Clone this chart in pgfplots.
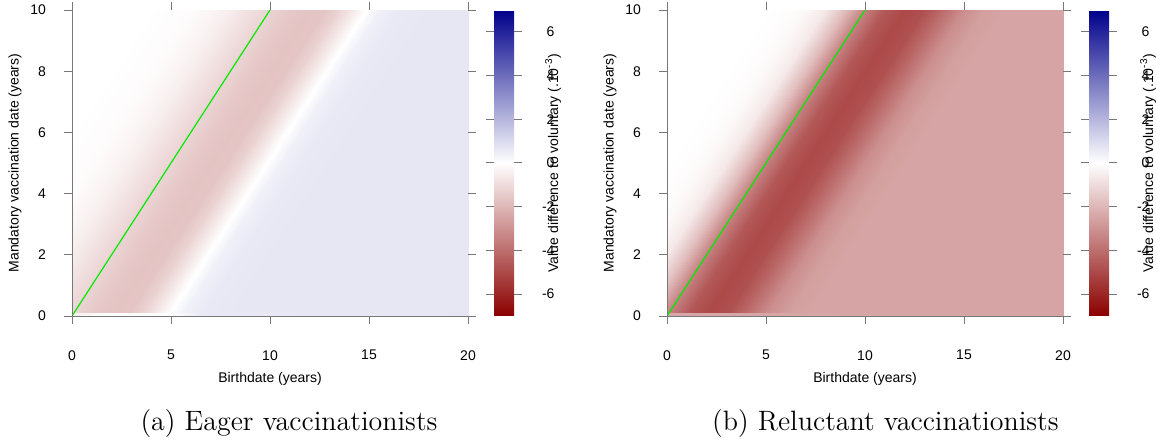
\documentclass[border=0pt]{standalone}
\usepackage{fontspec}
\usepackage{pgfplots}
\pgfplotsset{compat=1.18}
\newfontfamily\arialfont{Liberation Sans}
\definecolor{axgray}{RGB}{120,120,120}
\definecolor{rgreen}{RGB}{0,235,0}
\pgfplotsset{
  colormap={rwb}{rgb255(0cm)=(139,0,0) rgb255(1cm)=(255,255,255) rgb255(2cm)=(0,0,139)},
  /pgf/number format/assume math mode=true,
  tick label style={font=\arialfont\fontsize{7}{8}\selectfont, text=black},
  mymap/.style={
    view={0}{90},
    scale only axis, width=198pt, height=153pt,
    xmin=0, xmax=20, ymin=0, ymax=10,
    xtick={0,5,10,15,20}, ytick={0,2,...,10}, ztick=\empty,
    tick align=outside, major tick length=4pt,
    tick style={axgray, line width=0.5pt},
    axis line style={draw=none},
    clip mode=individual,
    xticklabel style={yshift=-9.6pt},
    yticklabel style={xshift=-5.5pt},
    point meta min=-7, point meta max=7,
    xlabel={Birthdate (years)},
    ylabel={Mandatory vaccination date (years)},
    every axis x label/.style={at={(axis description cs:0.5,-0.206)}, anchor=center, font=\arialfont\fontsize{7}{8}\selectfont},
    every axis y label/.style={at={(axis description cs:-0.144,0.5)}, anchor=center, rotate=90, font=\arialfont\fontsize{7}{8}\selectfont},
    colorbar,
    colorbar style={
      at={(parent axis.north east)}, anchor=north west, xshift=4.46pt,
      scale only axis, width=10pt, height=153pt,
      ytick={-6,-4,...,6}, ytick pos=both, yticklabel pos=right,
      tick align=outside, major tick length=4pt,
      tick style={axgray, line width=0.5pt},
      axis line style={draw=none},
      ylabel={Value difference to voluntary (.10\textsuperscript{-3})},
      every axis y label/.style={at={(axis description cs:2.95,0.5)}, anchor=center, rotate=90, font=\arialfont\fontsize{7}{8}\selectfont},
      yticklabel style={anchor=west, text width=7pt, align=right, xshift=5.7pt},
    },
  },
}
\begin{document}
\begin{tikzpicture}
\useasboundingbox (0,0) rectangle (578pt,223pt);
% ---------------- (a) Eager vaccinationists
\begin{axis}[mymap, at={(36pt,65pt)}, anchor=south west]
\addplot3[surf, shader=interp, mesh/rows=2] table {
x y v
-10 0 0
-6 0 0
-4 0 -0.1
-3 0 -0.25
-2 0 -0.5
-1 0 -0.85
0 0 -1.2
1 0 -1.5
2 0 -1.65
2.8 0 -1.6
3.5 0 -1.2
4.2 0 -0.6
4.85 0 0
5.5 0 0.4
6.5 0 0.6
8 0 0.65
20 0 0.65
0 10 0
4 10 0
6 10 -0.1
7 10 -0.25
8 10 -0.5
9 10 -0.85
10 10 -1.2
11 10 -1.5
12 10 -1.65
12.8 10 -1.6
13.5 10 -1.2
14.2 10 -0.6
14.85 10 0
15.5 10 0.4
16.5 10 0.6
18 10 0.65
30 10 0.65
};
\addplot3[surf, shader=interp, mesh/rows=2] table {
x y v
0 0 -0.4
1.5 0 -0.1
5 0 0
6.5 0 0.6
20 0 0.65
0 0.1 -0.4
1.5 0.1 -0.1
5 0.1 0
6.5 0.1 0.6
20 0.1 0.65
};
\addplot3[rgreen, line width=0.6pt] coordinates {(0,0,1) (10,10,1)};
\draw[axgray, line width=0.5pt] (axis cs:0,10,0) -- (axis cs:0,0,0) -- (axis cs:20,0,0);
\end{axis}
% ---------------- (b) Reluctant vaccinationists
\begin{axis}[mymap, at={(333.5pt,65pt)}, anchor=south west]
\addplot3[surf, shader=interp, mesh/rows=2] table {
x y v
-10 0 0
-5 0 0
-4 0 -0.05
-3 0 -0.2
-2 0 -0.6
-1 0 -1.8
0 0 -3.5
1 0 -4.6
2 0 -5.0
3 0 -4.8
4 0 -4.0
5 0 -3.1
6 0 -2.65
7 0 -2.5
20 0 -2.5
0 10 0
5 10 0
6 10 -0.05
7 10 -0.2
8 10 -0.6
9 10 -1.8
10 10 -3.5
11 10 -4.6
12 10 -5.0
13 10 -4.8
14 10 -4.0
15 10 -3.1
16 10 -2.65
17 10 -2.5
30 10 -2.5
};
\addplot3[surf, shader=interp, mesh/rows=2] table {
x y v
0 0 -2.4
20 0 -2.5
0 0.1 -2.4
20 0.1 -2.5
};
\addplot3[rgreen, line width=0.6pt] coordinates {(0,0,1) (10,10,1)};
\draw[axgray, line width=0.5pt] (axis cs:0,10,0) -- (axis cs:0,0,0) -- (axis cs:20,0,0);
\end{axis}
\node[font=\fontsize{14}{17}\selectfont, anchor=base] at (144.5pt,8pt) {(a) Eager vaccinationists};
\node[font=\fontsize{14}{17}\selectfont, anchor=base] at (442.7pt,8pt) {(b) Reluctant vaccinationists};
\end{tikzpicture}
\end{document}
